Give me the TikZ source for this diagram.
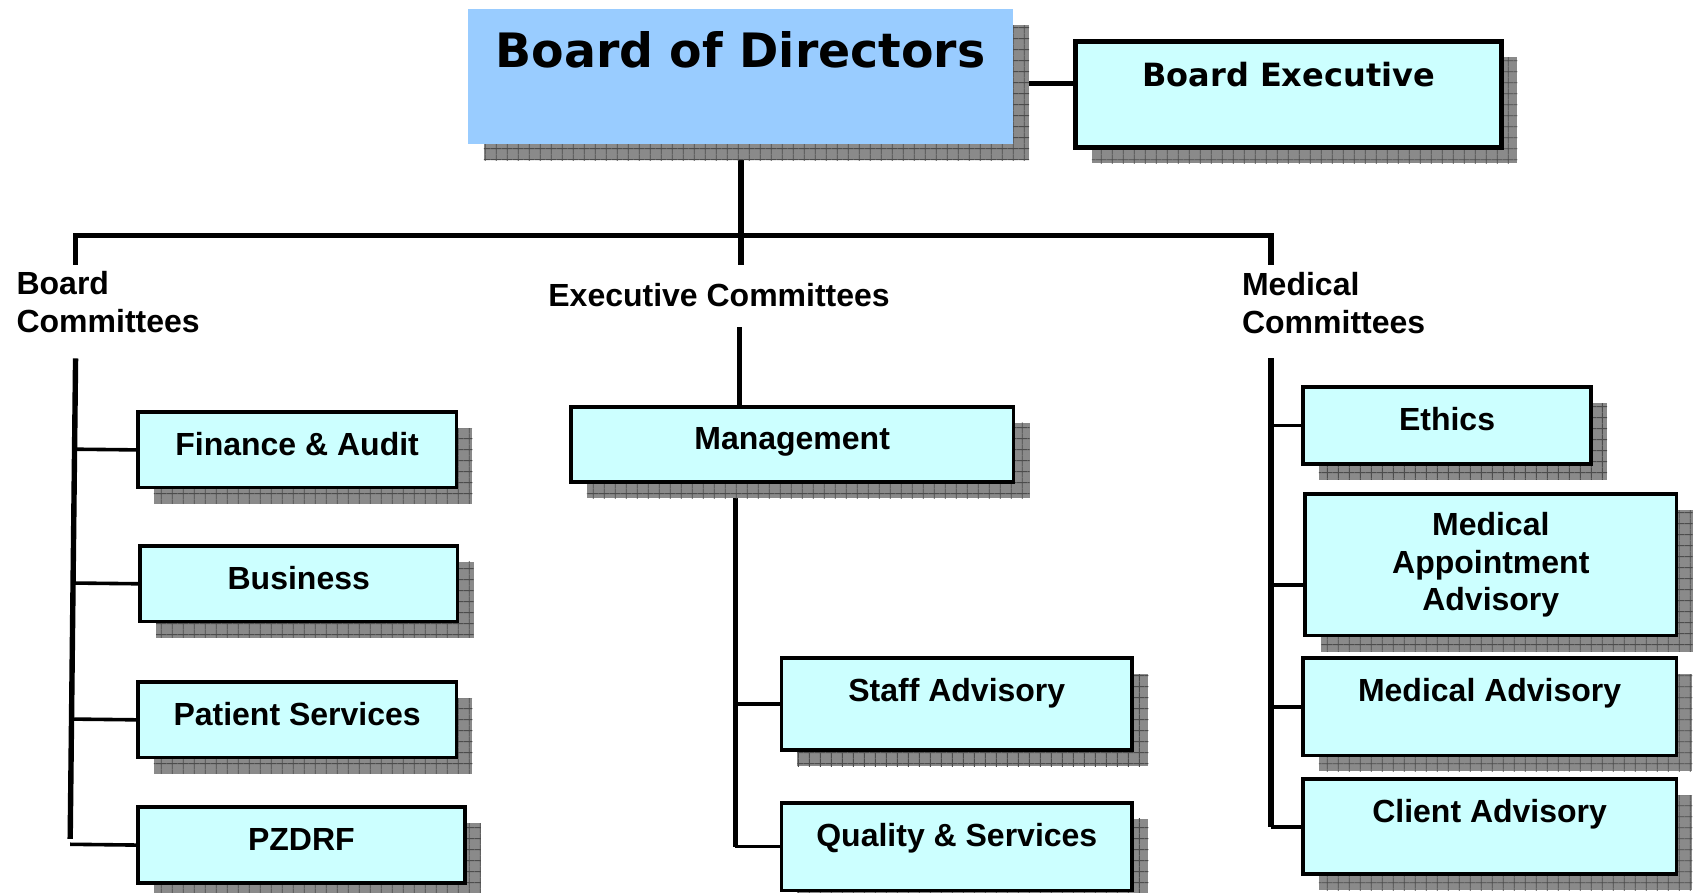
\documentclass[tikz,border=0pt]{standalone}
\usepackage{fontspec}
\setmainfont{Liberation Sans}
\newfontfamily\boardfont{DejaVu Sans}
\usetikzlibrary{calc,backgrounds,patterns.meta}
\definecolor{boardblue}{HTML}{99CCFF}
\definecolor{unitcyan}{HTML}{CCFFFF}
\definecolor{shadowgray}{HTML}{8A8A8A}
\tikzset{
  shadowed/.style={
    preaction={draw=none, fill=shadowgray, transform canvas={xshift=8pt,yshift=-8pt}},
    preaction={draw=none, pattern={Hatch[distance=5.4pt,line width=0.45pt]}, pattern color=black!70, transform canvas={xshift=8pt,yshift=-8pt}}},
  unit/.style={shadowed, draw, fill=unitcyan, line width=1.8pt, inner sep=0pt, anchor=north west, align=center, font=\bfseries\fontsize{16}{18.9}\selectfont},
  toptext/.style={text height=21.6pt, text depth=#1},
  heading/.style={inner sep=0pt, align=left, font=\bfseries\fontsize{16}{18.9}\selectfont},
  bus/.style={line width=2.7pt},
  branch/.style={line width=1.8pt}
}
\begin{document}
\begin{tikzpicture}[x=0.54pt, y=-0.54pt]
\useasboundingbox (0,0) rectangle (1568,827);

% board
\node[shadowed, fill=boardblue, inner sep=0pt, anchor=north west, minimum width=272.7pt, text height=29.2pt, text depth=38.3pt, font=\boardfont\bfseries\fontsize{23.7}{28}\selectfont] (bod) at (433,8) {Board of Directors};
\node[unit, line width=2.6pt, minimum width=212.8pt, text height=22.7pt, text depth=30.2pt, font=\boardfont\bfseries\fontsize{16}{19}\selectfont] (be) at (994,36) {Board Executive};

% committee headings
\node[heading, anchor=north west] (bc) at (15,251) {Board\\Committees};
\node[heading, anchor=north] (ec) at (666,262) {Executive Committees};
\node[heading, anchor=north west] (mc) at (1150,252) {Medical\\Committees};

% board committees
\node[unit, minimum width=159.3pt, toptext=16.2pt] (fa) at (126,380) {Finance \& Audit};
\node[unit, minimum width=158.8pt, toptext=16.2pt] (bu) at (128,504) {Business};
\node[unit, minimum width=159.3pt, toptext=16.2pt] (ps) at (126,630) {Patient Services};
\node[unit, minimum width=163.6pt, toptext=16.2pt] (pz) at (126,746) {PZDRF};

% executive committees
\node[unit, minimum width=221.4pt, toptext=16.2pt] (mg) at (527,375) {Management};
\node[unit, minimum width=175.5pt, toptext=24.3pt] (sa) at (722,608) {Staff Advisory};
\node[unit, minimum width=175.5pt, toptext=22.1pt] (qs) at (722,742) {Quality \& Services};

% medical committees
\node[unit, minimum width=144.2pt, toptext=16.7pt] (et) at (1205,357) {Ethics};
\node[unit, minimum width=185.8pt, minimum height=70.7pt] (ma) at (1207,456) {Medical\\Appointment\\Advisory};
\node[unit, minimum width=186.8pt, toptext=27pt] (md) at (1205,608) {Medical Advisory};
\node[unit, minimum width=186.8pt, toptext=25.9pt] (ca) at (1205,720) {Client Advisory};

\coordinate (bcjoin) at (70,245);
\coordinate (mcjoin) at (1177,245);
\coordinate (bctop) at (70,332);
\coordinate (bcbot) at (65,777);
\coordinate (ectop) at (685,303);
\coordinate (exbus) at (681,445);
\coordinate (mctop) at (1177,332);

\begin{scope}[on background layer]
\draw[bus] ([yshift=5.4pt]be.west) -- ([yshift=5.4pt]be.west -| bod.east);
\draw[bus, line width=3pt] (bod.south) -- (bod.south |- bcjoin);
\draw[bus] (bcjoin) -- ++(0,-27) -| (mcjoin);
\draw[bus] (bctop) -- (bcbot);
\foreach \u in {fa,bu,ps,pz}
  \draw[branch] (\u.west) -- ($(bctop)!(\u.west)!(bcbot)$);
\draw[bus] (ectop) -- (mg.north -| ectop);
\draw[bus] (exbus) -- (exbus |- qs.west);
\foreach \u in {sa,qs}
  \draw[branch] (\u.west) -- (\u.west -| exbus);
\draw[bus] (mctop) -- (mctop |- ca.west);
\foreach \u in {et,md,ca}
  \draw[branch] (\u.west) -- (\u.west -| mctop);
\draw[branch] ([yshift=-10pt]ma.west) -- ([yshift=-10pt]ma.west -| mctop);
\end{scope}
\end{tikzpicture}
\end{document}
